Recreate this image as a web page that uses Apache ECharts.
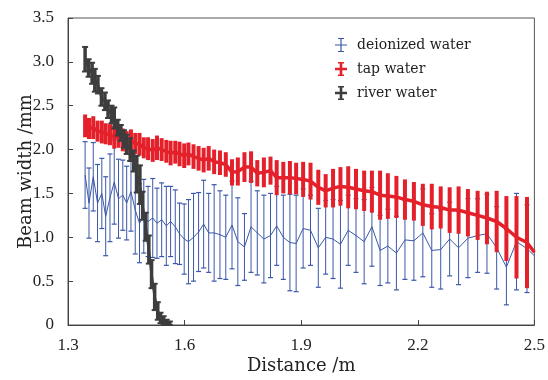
<!DOCTYPE html>
<html>
<head>
<meta charset="utf-8">
<script src="https://cdn.jsdelivr.net/npm/echarts@6/dist/echarts.min.js"></script>
<style>
html,body{margin:0;padding:0;background:#fff;}
#chart{width:548px;height:380px;}
</style>
</head>
<body>
<div id="chart"></div>
<script>
// Shared distances (m) for deionized & tap water
const distance = [1.344,1.354,1.365,1.376,1.387,1.397,1.408,1.419,1.430,1.441,1.451,1.462,1.473,1.484,
  1.495,1.506,1.518,1.529,1.541,1.553,1.564,1.576,1.587,1.599,1.610,1.623,1.636,1.649,1.662,
  1.676,1.691,1.706,1.722,1.737,1.754,1.771,1.787,1.804,1.821,1.837,1.854,1.871,1.887,
  1.905,1.924,1.944,1.963,1.982,2.001,2.021,2.041,2.062,2.082,2.103,2.123,2.145,2.167,
  2.190,2.213,2.236,2.259,2.282,2.305,2.329,2.354,2.378,2.403,2.428,2.454,2.481,2.500];

const deionizedMean = [1.71,1.39,1.69,1.39,1.50,1.24,1.45,1.63,1.44,1.48,1.39,1.52,1.31,1.16,
  1.24,1.18,1.22,1.16,1.20,1.13,1.18,1.12,1.04,0.98,0.95,1.00,1.06,1.15,1.05,
  1.05,1.03,1.00,1.14,0.95,0.89,1.12,1.05,0.98,1.02,1.13,1.00,0.94,0.93,
  1.10,1.08,0.88,1.00,0.98,0.92,1.08,1.02,0.95,1.12,0.85,0.90,0.82,0.97,
  0.96,1.05,0.85,0.86,0.98,0.88,0.99,1.02,1.04,0.88,0.66,0.95,0.87,0.79];
const deionizedErr = [0.38,0.40,0.39,0.44,0.40,0.45,0.50,0.48,0.45,0.40,0.42,0.45,0.50,0.45,
  0.42,0.40,0.45,0.40,0.42,0.45,0.40,0.42,0.35,0.40,0.48,0.50,0.45,0.50,0.45,
  0.55,0.50,0.48,0.50,0.50,0.38,0.52,0.48,0.50,0.48,0.45,0.48,0.55,0.55,
  0.45,0.40,0.45,0.42,0.45,0.50,0.40,0.42,0.48,0.45,0.40,0.42,0.42,0.45,
  0.45,0.50,0.42,0.45,0.42,0.42,0.45,0.42,0.45,0.47,0.43,0.55,0.50,0];

const tapMean = [2.27,2.24,2.25,2.21,2.20,2.18,2.17,2.14,2.14,2.11,2.09,2.10,2.07,2.06,
  2.02,2.01,1.99,2.02,2.00,1.98,1.96,1.97,1.95,1.93,1.95,1.92,1.90,1.88,1.90,
  1.86,1.85,1.83,1.74,1.75,1.80,1.80,1.73,1.74,1.76,1.68,1.68,1.68,1.67,
  1.66,1.64,1.57,1.53,1.56,1.58,1.57,1.55,1.53,1.52,1.48,1.47,1.46,1.43,
  1.41,1.37,1.35,1.34,1.31,1.31,1.28,1.25,1.22,1.18,1.10,1.00,0.94,0.83];
const tapErr = [0.13,0.12,0.13,0.12,0.13,0.12,0.12,0.13,0.12,0.13,0.12,0.13,0.12,0.13,
  0.12,0.13,0.13,0.14,0.13,0.13,0.14,0.13,0.14,0.14,0.13,0.14,0.14,0.14,0.14,
  0.14,0.14,0.14,0.15,0.16,0.17,0.18,0.15,0.17,0.16,0.20,0.18,0.19,0.18,
  0.20,0.21,0.20,0.19,0.22,0.22,0.24,0.23,0.23,0.24,0.28,0.26,0.24,0.23,
  0.22,0.24,0.26,0.24,0.26,0.27,0.27,0.28,0.30,0.35,0.37,0.47,0.52,0];

// River water (own distances)
const riverDistance = [1.344,1.353,1.362,1.369,1.377,1.386,1.395,1.403,1.412,1.419,1.428,1.436,1.444,1.451,
  1.460,1.469,1.477,1.485,1.492,1.500,1.508,1.515,1.523,1.531,1.538,1.546,1.554,1.562];
const riverMean = [3.03,2.93,2.87,2.79,2.74,2.60,2.55,2.46,2.40,2.36,2.25,2.19,2.12,2.06,
  2.00,1.87,1.72,1.60,1.36,1.12,0.86,0.58,0.32,0.16,0.08,0.05,0.03,0.02];
const riverErr = [0.14,0.10,0.12,0.13,0.10,0.10,0.10,0.10,0.10,0.12,0.09,0.09,0.10,0.11,
  0.13,0.12,0.21,0.22,0.16,0.16,0.16,0.16,0.15,0.10,0.06,0.05,0.03,0.02];

const xTicks = ['1.3','1.6','1.9','2.2','2.5'];

const C_BLUE = '#3b58a8', C_RED = '#e4202a', C_BLACK = '#3d3d3d';
const FONT = 'DejaVu Serif';
const TICK_FONT = 'Liberation Serif';

function errData(xs, m, e){ return xs.map((x,i)=>[x, m[i], e[i]]); }
function lineData(xs, m){ return xs.map((x,i)=>[x, m[i]]); }

function errRender(color, barW, capW, capLW){
  return function(params, api){
    const x = api.value(0), m = api.value(1), e = api.value(2);
    if (!e) return null;
    const lo = Math.max(0, m - e);
    const t = api.coord([x, m + e]);
    const b = api.coord([x, lo]);
    const children = [
      {type:'line', shape:{x1:t[0], y1:t[1], x2:b[0], y2:b[1]}, style:{stroke:color, lineWidth:barW}}
    ];
    if (capW > 0) {
      children.push(
        {type:'line', shape:{x1:t[0]-capW/2, y1:t[1], x2:t[0]+capW/2, y2:t[1]}, style:{stroke:color, lineWidth:capLW}},
        {type:'line', shape:{x1:b[0]-capW/2, y1:b[1], x2:b[0]+capW/2, y2:b[1]}, style:{stroke:color, lineWidth:capLW}}
      );
    }
    return {type:'group', children};
  };
}

const iconThin = 'path://M3,0H9V1H6.6V6.5H12V7.5H6.6V13H9V14H3V13H5.4V7.5H0V6.5H5.4V1H3Z';
const iconThick = 'path://M3,0H9V1.6H7.3V5.8H12V8.2H7.3V12.4H9V14H3V12.4H4.7V8.2H0V5.8H4.7V1.6H3Z';

const chart = echarts.init(document.getElementById('chart'), null, {renderer:'canvas'});
chart.setOption({
  animation: false,
  backgroundColor: '#fff',
  grid: {left:68, right:11, top:18, bottom:49, show:true, borderColor:'#555', borderWidth:1, backgroundColor:'transparent'},
  legend: {
    orient:'vertical', left:335, top:38, itemGap:10, itemWidth:22, itemHeight:14, padding:0,
    textStyle:{fontFamily:FONT, fontSize:14, color:'#222'},
    data:[
      {name:'deionized water', icon:iconThin},
      {name:'tap water', icon:iconThick},
      {name:'river water', icon:iconThick}
    ]
  },
  xAxis: {
    type:'value', min:1.3, max:2.5, interval:0.3,
    name:'Distance /m', nameLocation:'middle', nameGap:32, nameMoveOverlap:false,
    nameTextStyle:{fontFamily:FONT, fontSize:18, color:'#222'},
    axisLine:{show:true, lineStyle:{color:'#444', width:1}},
    axisTick:{show:true, inside:true, length:5, lineStyle:{color:'#444'}},
    axisLabel:{fontFamily:TICK_FONT, fontSize:17, color:'#222', margin:12,
      formatter:(v)=>{ const s=v.toFixed(1); return xTicks.includes(s)?s:''; }},
    splitLine:{show:false}
  },
  yAxis: {
    type:'value', min:0, max:3.5, interval:0.5,
    name:'Beam width /mm', nameLocation:'middle', nameGap:33, nameMoveOverlap:false,
    nameTextStyle:{fontFamily:FONT, fontSize:18, color:'#222'},
    axisLine:{show:true, lineStyle:{color:'#444', width:1}},
    axisTick:{show:true, inside:true, length:5, lineStyle:{color:'#444'}},
    axisLabel:{fontFamily:TICK_FONT, fontSize:17, color:'#222', margin:14,
      formatter:(v)=> v===0 ? '0' : v.toFixed(1)},
    splitLine:{show:false}
  },
  series: [
    {name:'deionized water', type:'custom', renderItem:errRender(C_BLUE,1,5,1.2),
     data:errData(distance, deionizedMean, deionizedErr), itemStyle:{color:C_BLUE}, z:2},
    {name:'deionized water', type:'line', data:lineData(distance, deionizedMean), showSymbol:false,
     lineStyle:{color:C_BLUE, width:1}, itemStyle:{color:C_BLUE}, z:3},
    {name:'tap water', type:'custom', renderItem:errRender(C_RED,4,0,0),
     data:errData(distance, tapMean, tapErr), itemStyle:{color:C_RED}, z:4},
    {name:'tap water', type:'line', data:lineData(distance, tapMean), showSymbol:false,
     lineStyle:{color:C_RED, width:3.5}, itemStyle:{color:C_RED}, z:5},
    {name:'river water', type:'custom', renderItem:errRender(C_BLACK,3.5,6,2),
     data:errData(riverDistance, riverMean, riverErr), itemStyle:{color:C_BLACK}, z:6},
    {name:'river water', type:'line', data:lineData(riverDistance, riverMean), showSymbol:false,
     lineStyle:{color:C_BLACK, width:2.5}, itemStyle:{color:C_BLACK}, z:7}
  ]
});
</script>
</body>
</html>
